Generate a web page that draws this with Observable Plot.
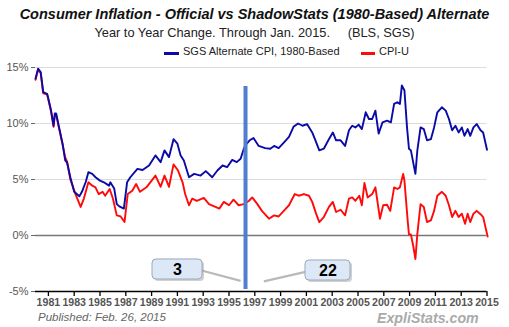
<!DOCTYPE html>
<html>
<head>
<meta charset="utf-8">
<script src="https://cdn.jsdelivr.net/npm/d3@7"></script>
<script src="https://cdn.jsdelivr.net/npm/@observablehq/plot@0.6"></script>
<style>
  body { margin: 0; background: #fff; }
  #wrap { position: relative; width: 509px; height: 327px; overflow: hidden; font-family: "Liberation Sans", Arial, sans-serif; }
  .t { position: absolute; left: 0; width: 509px; text-align: center; white-space: pre; }
  #title { top: 6px; font-size: 14.5px; font-weight: bold; font-style: italic; color: #111; }
  #sub { top: 25px; font-size: 12.8px; color: #222; }
  #legend { position: absolute; top: 45px; left: 0; width: 509px; font-size: 11px; color: #222; }
  .sw { position: absolute; height: 2.5px; top: 7px; }
  .lt { position: absolute; top: 0; white-space: pre; }
  #pub { position: absolute; left: 38px; top: 312px; font-size: 11.5px; line-height: 1; font-style: italic; color: #666; }
  #brand { position: absolute; left: 377px; top: 310.5px; font-size: 14.2px; line-height: 1; font-weight: bold; font-style: italic; color: #aaaaaa; }
  svg { position: absolute; left: 0; top: 0; }
</style>
</head>
<body>
<div id="wrap"></div>
<script>
// ---- data ----
const seriesNames = ["SGS Alternate CPI, 1980-Based", "CPI-U"];
const sgsYears = [1980.0,1980.2,1980.4,1980.6,1980.9,1981.0,1981.2,1981.4,1981.5,1981.6,1981.8,1982.1,1982.3,1982.45,1982.7,1983.0,1983.2,1983.4,1983.6,1983.9,1984.1,1984.4,1984.65,1985.0,1985.3,1985.7,1985.8,1986.1,1986.3,1986.5,1986.85,1987.1,1987.35,1987.9,1988.3,1988.8,1989.3,1989.7,1990.0,1990.35,1990.7,1991.0,1991.25,1991.5,1991.9,1992.3,1992.8,1993.2,1993.7,1994.1,1994.5,1994.85,1995.25,1995.6,1995.9,1996.15,1996.3,1996.6,1996.9,1997.3,1997.8,1998.2,1998.5,1998.85,1999.25,1999.65,2000.0,2000.35,2000.7,2001.05,2001.45,2001.7,2002.0,2002.35,2002.7,2003.05,2003.3,2003.65,2004.0,2004.3,2004.55,2004.8,2005.05,2005.3,2005.6,2005.85,2006.1,2006.35,2006.6,2006.9,2007.25,2007.55,2007.8,2008.05,2008.25,2008.4,2008.6,2008.8,2008.95,2009.1,2009.3,2009.45,2009.6,2009.85,2010.1,2010.35,2010.65,2010.9,2011.15,2011.5,2011.8,2012.05,2012.3,2012.55,2012.8,2013.05,2013.25,2013.5,2013.7,2013.95,2014.2,2014.5,2014.7,2015.0];
const sgsValues = [14.0,14.9,14.6,12.8,12.65,12.2,11.2,9.8,10.9,10.9,9.8,8.2,6.7,6.5,5.2,3.9,3.7,3.5,3.9,4.8,5.65,5.5,5.2,4.9,4.75,4.45,4.75,4.2,2.8,2.6,2.4,4.75,5.2,5.95,5.85,6.25,7.15,6.55,7.6,7.0,8.6,8.2,7.15,6.7,5.2,5.5,5.35,5.75,5.2,5.8,6.25,6.1,6.75,6.55,6.85,7.75,8.1,8.5,8.7,8.0,7.8,7.75,8.0,7.8,8.3,8.8,9.7,10.0,9.8,9.95,9.2,8.5,7.6,7.75,8.5,9.2,8.5,8.5,8.0,9.4,9.8,9.65,9.9,9.5,11.0,10.4,10.4,11.15,9.1,10.1,10.25,10.1,11.75,11.9,11.75,13.4,12.95,9.65,7.75,7.6,6.4,5.5,7.6,9.65,9.5,8.5,8.6,9.65,11.0,11.45,11.15,10.4,9.4,9.8,9.2,9.65,8.9,9.5,8.9,9.65,9.95,9.4,9.2,7.65];
const cpiYears = [1980.0,1980.2,1980.4,1980.6,1980.9,1981.0,1981.2,1981.4,1981.5,1981.6,1981.8,1982.1,1982.3,1982.45,1982.7,1983.1,1983.5,1983.75,1984.1,1984.4,1984.65,1984.9,1985.2,1985.4,1985.75,1986.0,1986.3,1986.6,1986.9,1987.15,1987.5,1987.8,1988.1,1988.6,1989.3,1989.7,1990.0,1990.35,1990.7,1991.05,1991.4,1991.6,1991.9,1992.15,1992.5,1993.05,1993.45,1993.95,1994.25,1994.6,1995.0,1995.35,1995.75,1996.15,1996.55,1996.8,1997.2,1997.55,1998.1,1998.5,1998.85,1999.25,1999.65,2000.1,2000.4,2000.8,2001.2,2001.45,2001.75,2002.0,2002.35,2002.75,2003.05,2003.3,2003.65,2004.0,2004.3,2004.55,2004.8,2005.1,2005.3,2005.5,2005.75,2006.1,2006.35,2006.7,2006.95,2007.25,2007.5,2007.8,2008.05,2008.25,2008.5,2008.6,2008.85,2008.95,2009.1,2009.3,2009.45,2009.6,2009.85,2010.1,2010.35,2010.65,2010.9,2011.15,2011.5,2011.8,2012.05,2012.3,2012.55,2012.8,2013.05,2013.3,2013.5,2013.7,2013.95,2014.2,2014.5,2014.7,2015.05];
const cpiValues = [13.9,14.8,14.5,12.7,12.6,12.1,11.1,9.7,10.8,10.8,9.7,8.1,7.0,6.6,5.0,3.7,2.55,3.3,4.75,4.45,4.3,3.7,3.9,3.55,4.15,3.3,1.8,1.7,1.2,3.7,4.0,4.6,3.9,4.3,5.35,4.35,5.35,4.35,6.35,5.8,4.75,3.7,2.7,3.3,3.1,3.35,2.8,2.55,2.4,3.0,2.7,3.2,2.7,2.8,3.1,3.4,2.8,2.2,1.5,1.8,1.7,2.2,2.7,3.7,3.55,3.7,3.55,3.0,1.95,1.2,1.65,2.55,3.0,2.1,2.3,1.8,3.3,3.4,3.1,3.55,2.7,4.7,3.4,3.7,4.3,1.5,2.7,2.75,2.2,4.3,4.15,4.3,5.5,4.9,1.35,0.1,0.1,-1.05,-2.1,0.15,2.8,2.55,1.2,1.35,2.2,3.55,3.9,3.55,2.7,1.65,2.2,1.65,1.95,1.05,1.95,1.2,1.95,2.2,1.9,1.65,-0.1];
const xTicks = [1981,1983,1985,1987,1989,1991,1993,1995,1997,1999,2001,2003,2005,2007,2009,2011,2013,2015];
const yTicks = [-5,0,5,10,15];
const calloutLabels = ["3","22"];

// ---- build tables ----
const sgs = sgsYears.map((x,i)=>({x, y: sgsValues[i]}));
const cpi = cpiYears.map((x,i)=>({x, y: cpiValues[i]}));
const callouts = [
  {label: calloutLabels[0], x1: 1989.07, x2: 1992.95, y1: -3.93, y2: -2.14, tx1: 1992.8, ty1: -3.1, tx2: 1995.9, ty2: -4.05},
  {label: calloutLabels[1], x1: 2000.93, x2: 2004.42, y1: -4.02, y2: -2.23, tx1: 2001.1, ty1: -3.2, tx2: 1997.7, ty2: -4.1}
];
const cursor = [{x: 1996.28, y1: -4.82, y2: 13.3}];

const blue = "#0a0aa8", red = "#ff0a0a";

const chart = Plot.plot({
  width: 509, height: 327,
  marginTop: 67, marginBottom: 36, marginLeft: 35, marginRight: 22.5,
  x: {domain: [1980, 2015], axis: null},
  y: {domain: [-5, 15], axis: null},
  style: {fontFamily: "Liberation Sans, Arial, sans-serif", background: "transparent", overflow: "visible"},
  marks: [
    Plot.ruleY([5,10,15], {stroke: "#dcdcdc", strokeWidth: 1}),
    Plot.ruleY([0], {stroke: "#777", strokeWidth: 1.5}),
    Plot.axisY({ticks: yTicks, tickFormat: d => d + "%", tickSize: 4, tickPadding: 3, fontSize: 11, fill: "#555", stroke: "#666", anchor: "left"}),
    Plot.axisX({ticks: xTicks, tickFormat: d => String(d), tickSize: 5, tickPadding: 2, fontSize: 10.6, fontWeight: "bold", fill: "#555", stroke: "#000", strokeWidth: 1.3, anchor: "bottom"}),
    Plot.ruleY([-5], {stroke: "#000", strokeWidth: 1.6}),
    Plot.line(cpi, {x: "x", y: "y", stroke: red, strokeWidth: 1.9, curve: "linear"}),
    Plot.line(sgs, {x: "x", y: "y", stroke: blue, strokeWidth: 1.9, curve: "linear"}),
    Plot.ruleX(cursor, {x: "x", y1: "y1", y2: "y2", stroke: "#4f7fcf", strokeWidth: 4}),
    Plot.link(callouts, {x1: "tx1", y1: "ty1", x2: "tx2", y2: "ty2", stroke: "#a8a8a8", strokeWidth: 2.2, strokeOpacity: 0.8}),
    Plot.rect(callouts, {x1: "x1", x2: "x2", y1: "y1", y2: "y2", fill: "#999", fillOpacity: 0.45, rx: 4, dx: 2, dy: 2}),
    Plot.rect(callouts, {x1: "x1", x2: "x2", y1: "y1", y2: "y2", fill: "#dde8f7", stroke: "#9aa8bb", strokeWidth: 1, rx: 4}),
    Plot.text(callouts, {x: d => (d.x1 + d.x2) / 2, y: d => (d.y1 + d.y2) / 2, text: "label", fontSize: 16, fontWeight: "bold", fill: "#000"})
  ]
});

const wrap = document.getElementById("wrap");
wrap.appendChild(chart);

const title = document.createElement("div");
title.className = "t"; title.id = "title";
title.textContent = "Consumer Inflation - Official vs ShadowStats (1980-Based) Alternate";
wrap.appendChild(title);

const sub = document.createElement("div");
sub.className = "t"; sub.id = "sub";
sub.textContent = "Year to Year Change. Through Jan. 2015.     (BLS, SGS)";
wrap.appendChild(sub);

const legend = document.createElement("div");
legend.id = "legend";
legend.innerHTML =
  `<div class="sw" style="left:164px;width:15px;background:${blue}"></div>` +
  `<div class="lt" style="left:183px">${seriesNames[0]}</div>` +
  `<div class="sw" style="left:361px;width:14px;background:${red}"></div>` +
  `<div class="lt" style="left:379px">${seriesNames[1]}</div>`;
wrap.appendChild(legend);

const pub = document.createElement("div");
pub.id = "pub"; pub.textContent = "Published: Feb. 26, 2015";
wrap.appendChild(pub);

const brand = document.createElement("div");
brand.id = "brand"; brand.textContent = "ExpliStats.com";
wrap.appendChild(brand);
</script>
</body>
</html>
